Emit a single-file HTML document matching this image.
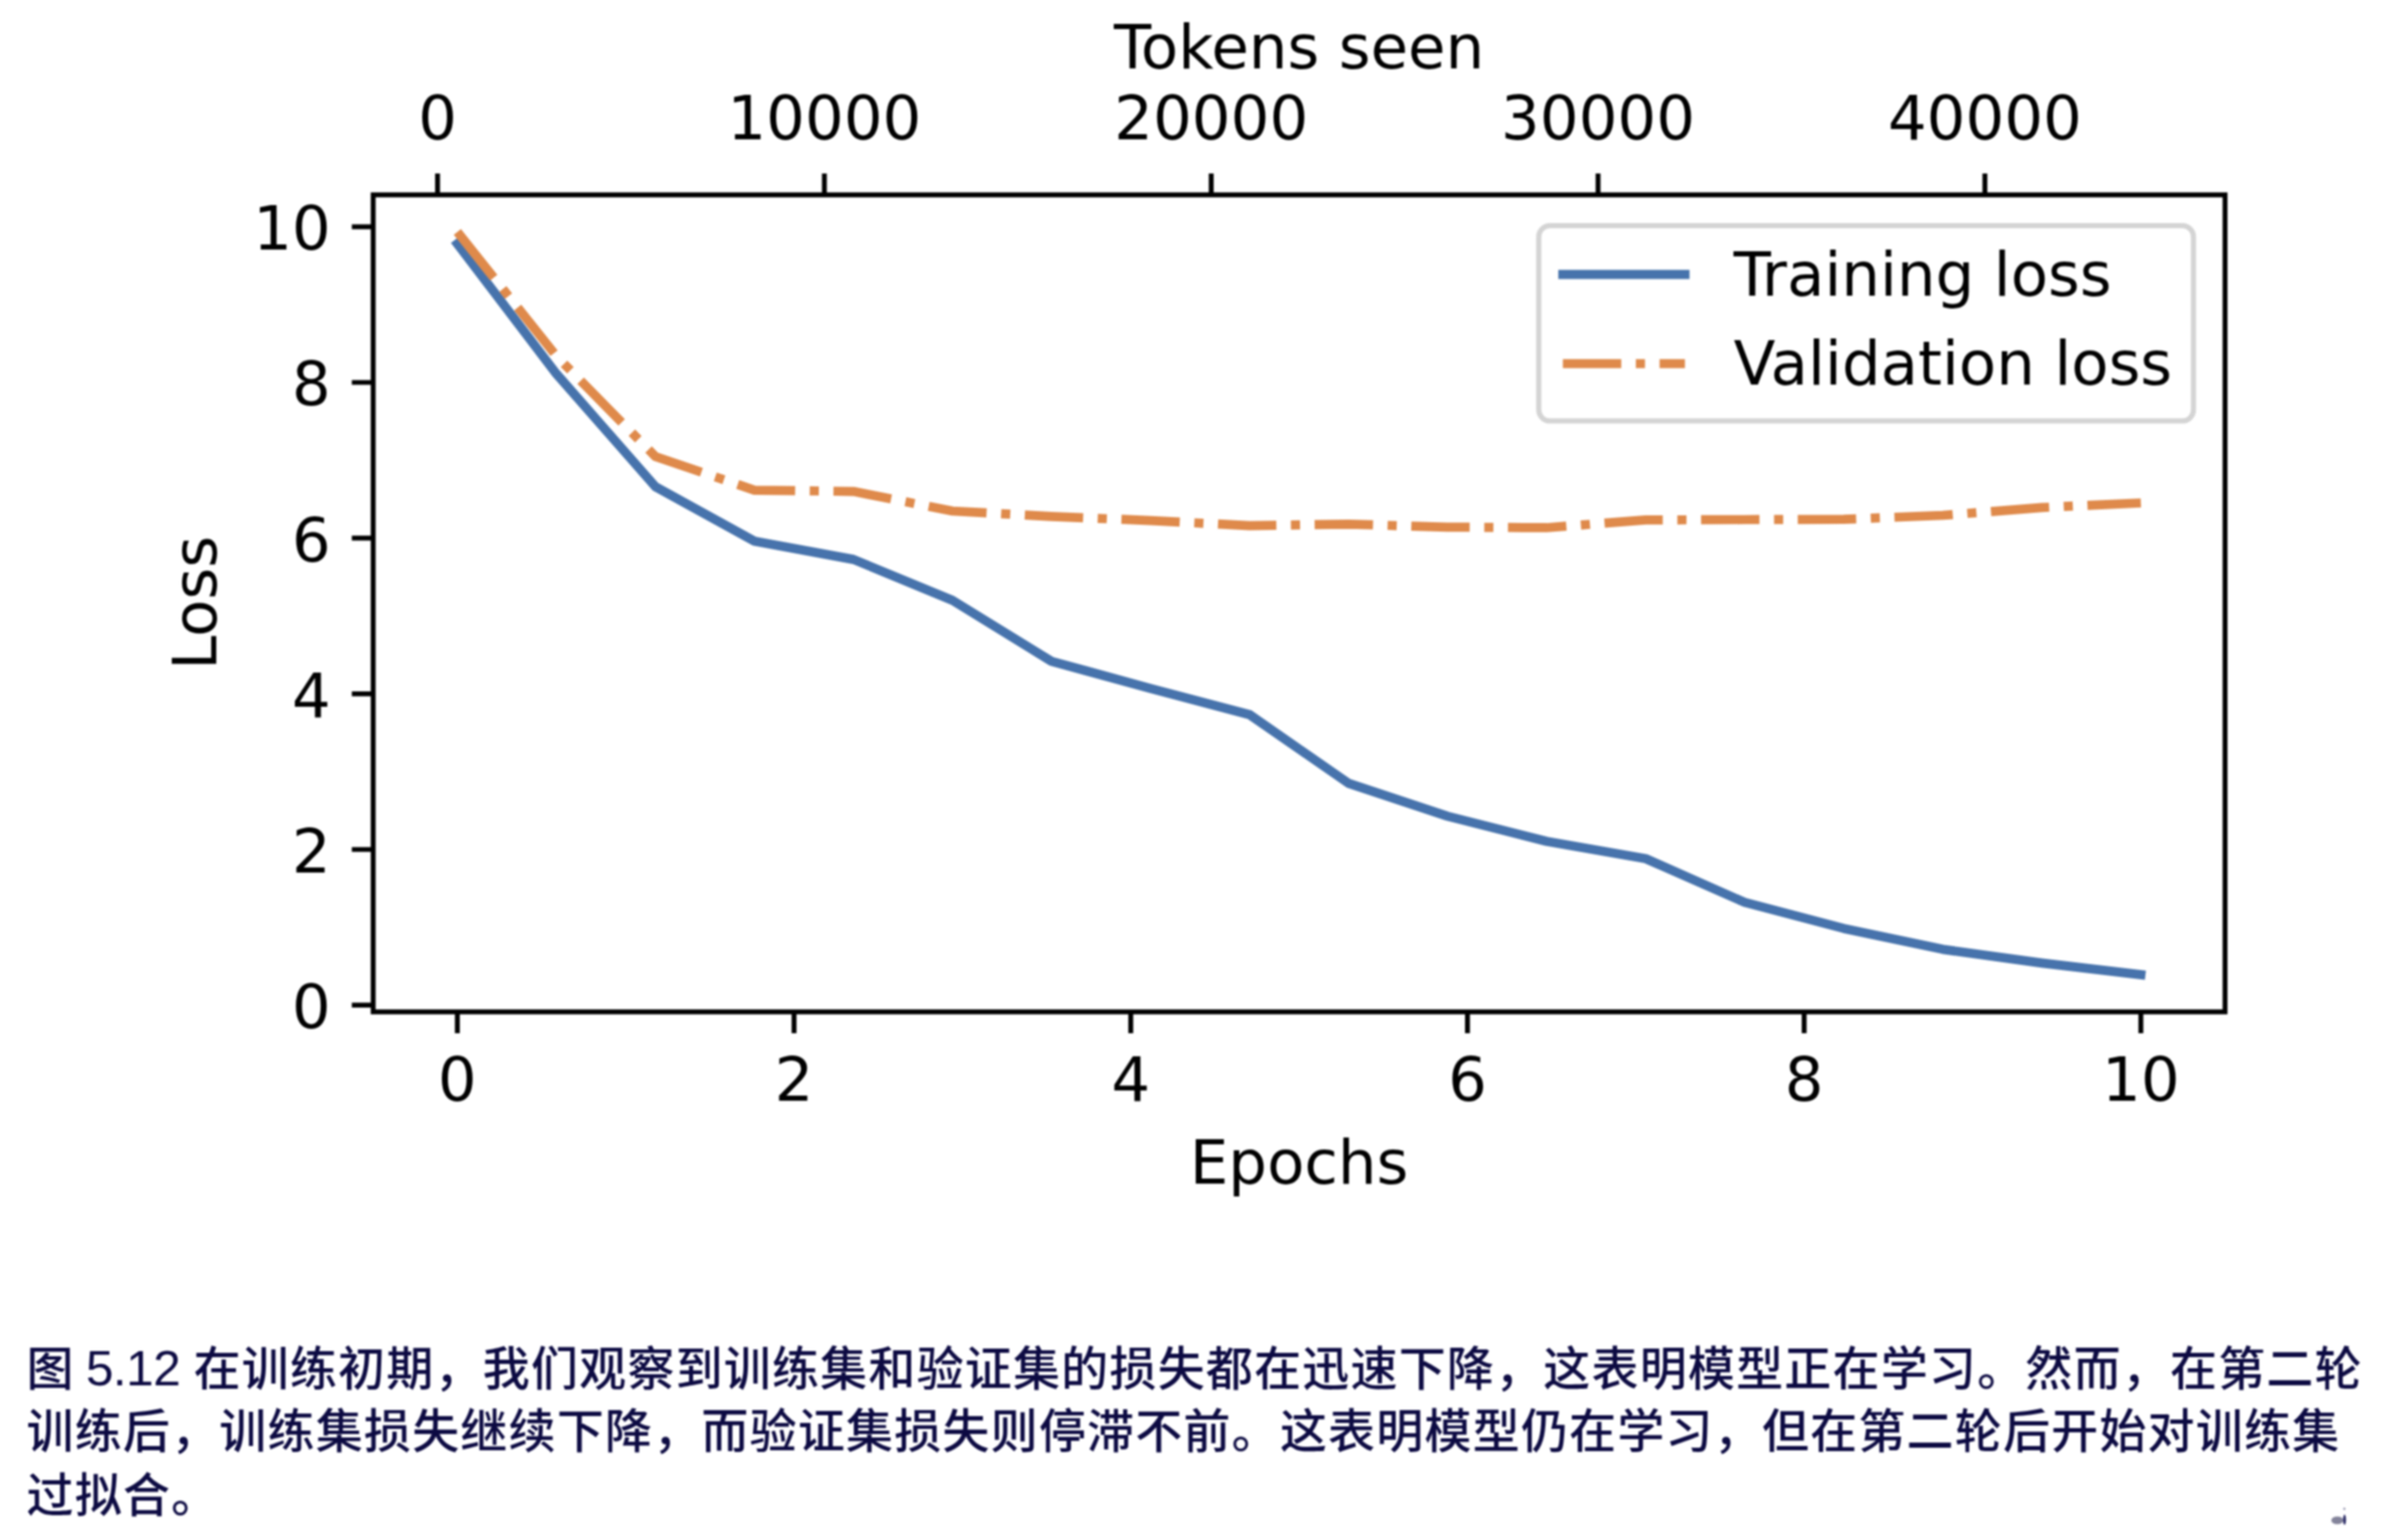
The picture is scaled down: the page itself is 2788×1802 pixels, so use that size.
<!DOCTYPE html>
<html><head><meta charset="utf-8"><title>Figure 5.12</title>
<style>
html,body{margin:0;padding:0;background:#fff;}
body{width:2788px;height:1802px;position:relative;overflow:hidden;}
#wrap{position:absolute;left:0;top:0;width:2788px;height:1802px;filter:blur(1.1px);}
.cap{position:absolute;left:31px;top:1564.3px;font-family:"Liberation Sans","Noto Sans CJK SC",sans-serif;font-size:55px;font-weight:500;letter-spacing:1.4px;line-height:74.2px;color:#0c0a42;white-space:nowrap;}
.cap div{height:74.2px;}
.cap .n{font-size:58px;letter-spacing:-0.6px;margin-left:-2.5px;}
</style></head><body><div id="wrap">
<svg width="2788" height="1802" viewBox="0 0 2788 1802" style="position:absolute;left:0;top:0">
<g font-family="DejaVu Sans, Liberation Sans, sans-serif" font-size="71.40" fill="#000">
<polyline points="535.08,285.30 650.94,437.40 766.80,569.47 882.66,633.23 998.53,654.63 1114.39,702.45 1230.25,773.86 1346.11,805.55 1461.97,836.25 1577.83,916.58 1693.69,955.11 1809.55,984.52 1925.41,1004.74 2041.27,1055.93 2157.14,1086.44 2273.00,1110.85 2388.86,1126.88 2504.72,1140.55" fill="none" stroke="#4773ac" stroke-width="10.71" stroke-linejoin="round" stroke-linecap="square"/>
<polyline points="535.08,271.45 650.94,416.64 766.80,534.22 882.66,573.57 998.53,575.03 1114.39,597.98 1230.25,604.35 1346.11,609.09 1461.97,615.10 1577.83,613.37 1693.69,616.83 1809.55,617.47 1925.41,608.45 2041.27,608.00 2157.14,607.63 2273.00,602.99 2388.86,593.88 2504.72,588.51" fill="none" stroke="#df8a4b" stroke-width="10.71" stroke-linejoin="round" stroke-linecap="butt" stroke-dasharray="68.30,17.08,10.67,17.08"/>
<rect x="436.6" y="228.0" width="2166.60" height="956.0" fill="none" stroke="#000" stroke-width="5.71" stroke-linejoin="miter"/>
<path d="M535.08,1184.0V1208.99M929.01,1184.0V1208.99M1322.94,1184.0V1208.99M1716.86,1184.0V1208.99M2110.79,1184.0V1208.99M2504.72,1184.0V1208.99M436.6,1176.16H411.61M436.6,994.00H411.61M436.6,811.84H411.61M436.6,629.67H411.61M436.6,447.51H411.61M436.6,265.35H411.61M511.91,228.0V203.01M964.49,228.0V203.01M1417.07,228.0V203.01M1869.66,228.0V203.01M2322.24,228.0V203.01" stroke="#000" stroke-width="5.71" fill="none"/>
<text x="535.08" y="1288" text-anchor="middle">0</text>
<text x="929.01" y="1288" text-anchor="middle">2</text>
<text x="1322.94" y="1288" text-anchor="middle">4</text>
<text x="1716.86" y="1288" text-anchor="middle">6</text>
<text x="2110.79" y="1288" text-anchor="middle">8</text>
<text x="2504.72" y="1288" text-anchor="middle">10</text>
<text x="387" y="1203.06" text-anchor="end">0</text>
<text x="387" y="1020.90" text-anchor="end">2</text>
<text x="387" y="838.74" text-anchor="end">4</text>
<text x="387" y="656.57" text-anchor="end">6</text>
<text x="387" y="474.41" text-anchor="end">8</text>
<text x="387" y="292.25" text-anchor="end">10</text>
<text x="511.91" y="163" text-anchor="middle">0</text>
<text x="964.49" y="163" text-anchor="middle">10000</text>
<text x="1417.07" y="163" text-anchor="middle">20000</text>
<text x="1869.66" y="163" text-anchor="middle">30000</text>
<text x="2322.24" y="163" text-anchor="middle">40000</text>
<text x="1519.90" y="1384.9" text-anchor="middle">Epochs</text>
<text x="1519.90" y="80.3" text-anchor="middle">Tokens seen</text>
<text transform="translate(252.6,705.40) rotate(-90)" x="0" y="0" text-anchor="middle">Loss</text>
<rect x="1800.3" y="264.0" width="766.00" height="228.60" rx="13" ry="13" fill="#fff" stroke="#d4d4d4" stroke-width="6"/>
<path d="M1828.5,321.1H1971.3" stroke="#4773ac" stroke-width="10.71" stroke-linecap="square"/>
<path d="M1828.5,425.5H1971.3" stroke="#df8a4b" stroke-width="10.71" stroke-linecap="butt" stroke-dasharray="68.30,17.08,10.67,17.08"/>
<text x="2028.2" y="346.4">Training loss</text>
<text x="2028.2" y="449.6">Validation loss</text>
</g>
<ellipse cx="2734.5" cy="1779" rx="7" ry="4.5" fill="#5a5a78" opacity="0.75"/>
<ellipse cx="2743" cy="1778.2" rx="1.6" ry="6" fill="#1a1a5a"/>
<circle cx="2742.8" cy="1765.5" r="1.2" fill="#8080a0"/>
</svg>
<div class="cap"><div>图<span class="n"> 5.12 </span>在训练初期，我们观察到训练集和验证集的损失都在迅速下降，这表明模型正在学习。然而，在第二轮</div><div>训练后，训练集损失继续下降，而验证集损失则停滞不前。这表明模型仍在学习，但在第二轮后开始对训练集</div><div>过拟合。</div></div>
</div></body></html>
